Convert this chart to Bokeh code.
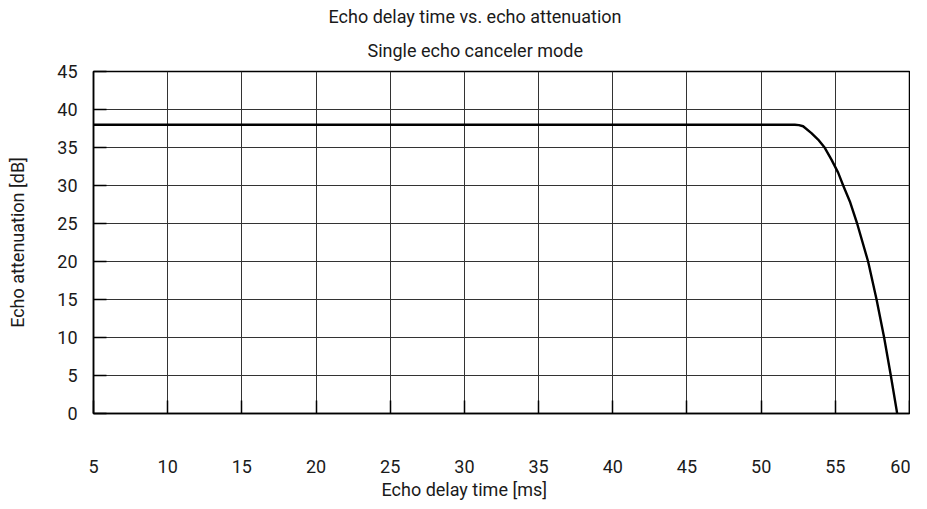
from bokeh.plotting import figure
from bokeh.models import Title, Range1d, FixedTicker
from bokeh.embed import file_html
from bokeh.resources import INLINE

# Data
delay_ms = [5.0, 52.27, 52.55, 52.83, 53.39, 53.84, 54.29, 54.74, 55.19, 55.53,
            55.98, 56.47, 57.21, 57.78, 58.29, 58.74, 59.17]
attenuation_db = [38.0, 38.0, 37.95, 37.8, 36.9, 36.05, 34.96, 33.4, 31.7, 30.0,
                  27.9, 25.0, 20.0, 15.0, 10.0, 5.0, 0.0]
x_ticks = [5, 10, 15, 20, 25, 30, 35, 40, 45, 50, 55, 60]
y_ticks = [0, 5, 10, 15, 20, 25, 30, 35, 40, 45]

title_main = "Echo delay time vs. echo attenuation"
title_sub = "Single echo canceler mode"
x_label = "Echo delay time [ms]"
y_label = "Echo attenuation [dB]"

FONT = "Roboto"
FS = "18px"
TXT = "#1a1a1a"

p = figure(frame_width=816, frame_height=342, output_backend="svg",
           toolbar_location=None,
           x_range=Range1d(5, 60), y_range=Range1d(0, 45), title=None,
           min_border_left=93, min_border_right=1, min_border_top=71,
           min_border_bottom=10)
p.background_fill_color = "white"
p.border_fill_color = "white"
p.outline_line_color = "black"
p.outline_line_width = 1.5

p.line(delay_ms, attenuation_db, line_color="black", line_width=2.4,
       line_join="round")

for ax in (p.xaxis[0], p.yaxis[0]):
    ax.axis_line_color = "black"
    ax.axis_line_width = 1.5
    ax.major_tick_out = 0
    ax.major_tick_in = 13
    ax.major_tick_line_color = "black"
    ax.major_tick_line_width = 1.5
    ax.minor_tick_out = 0
    ax.minor_tick_in = 0
    ax.major_label_text_font = FONT
    ax.major_label_text_font_size = FS
    ax.major_label_text_color = TXT

p.xaxis[0].ticker = FixedTicker(ticks=x_ticks)
p.yaxis[0].ticker = FixedTicker(ticks=y_ticks)
p.xaxis[0].major_label_standoff = 46
p.yaxis[0].major_label_standoff = 16

p.yaxis[0].axis_label = y_label
p.yaxis[0].axis_label_text_font = FONT
p.yaxis[0].axis_label_text_font_size = FS
p.yaxis[0].axis_label_text_font_style = "normal"
p.yaxis[0].axis_label_text_color = TXT
p.yaxis[0].axis_label_standoff = 26

p.xgrid.ticker = FixedTicker(ticks=x_ticks)
p.ygrid.ticker = FixedTicker(ticks=y_ticks)
for g in (p.xgrid, p.ygrid):
    g.grid_line_color = "#333333"
    g.grid_line_width = 1
    g.grid_line_alpha = 1.0

xl = Title(text=x_label, align="left", offset=288, text_font=FONT,
           text_font_size=FS, text_font_style="normal", text_color=TXT,
           standoff=2)
p.add_layout(xl, "below")

sub = Title(text=title_sub, align="left", offset=274, text_font=FONT,
            text_font_size=FS, text_font_style="normal", text_color=TXT,
            standoff=21)
p.add_layout(sub, "above")
main = Title(text=title_main, align="left", offset=235, text_font=FONT,
             text_font_size=FS, text_font_style="normal", text_color=TXT,
             standoff=1)
p.add_layout(main, "above")

open("out.html", "w").write(file_html(p, INLINE))
